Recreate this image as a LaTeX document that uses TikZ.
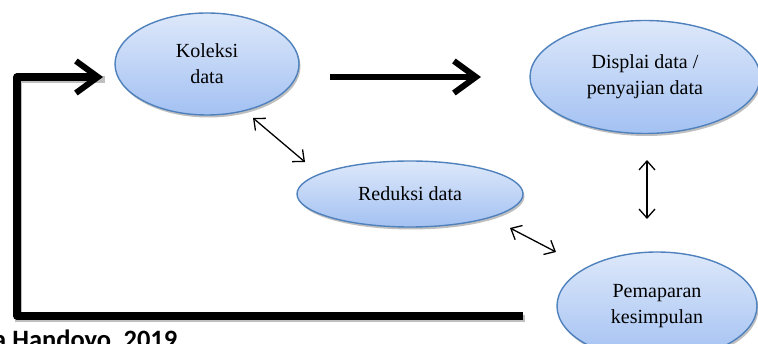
\documentclass[tikz,border=0pt]{standalone}
\usepackage{fontspec}
\setmainfont{Liberation Serif}
\newfontfamily\capfont{Carlito}
\usetikzlibrary{shapes.geometric,arrows.meta,shadows}
\definecolor{ebord}{HTML}{4F81BD}
\definecolor{etop}{HTML}{DDE8FA}
\definecolor{ebot}{HTML}{A3C1F2}
\tikzset{
  bubble/.style={ellipse, inner sep=0pt, draw=ebord, line width=1.4pt,
    top color=etop, bottom color=ebot, align=center,
    font=\fontsize{20}{26}\selectfont,
    drop shadow={shadow xshift=1.5pt, shadow yshift=-2.5pt, opacity=0.25, fill=black}},
  bigarrow/.style={line width=6pt, -{Straight Barb[length=22pt,width=32pt,line width=6pt]}},
  feedback/.style={line width=7.5pt, line join=round, -{Straight Barb[length=22pt,width=32pt,line width=6pt]},
    preaction={draw=black!25, line width=7.5pt, transform canvas={xshift=1.5pt,yshift=-2.5pt}, -}},
  twoway/.style={line width=1.3pt, {Straight Barb[length=9pt,width=16pt]}-{Straight Barb[length=9pt,width=16pt]}}
}
\begin{document}
\begin{tikzpicture}[x=1pt,y=-1pt]
\useasboundingbox (0,0) rectangle (758,344);
\clip (0,0) rectangle (758,344);
\node[bubble, minimum width=184pt, minimum height=102pt] (kol) at (207,64) {Koleksi\\data};
\node[bubble, minimum width=230pt, minimum height=113pt] (dis) at (645,77) {Displai data /\\penyajian data};
\node[bubble, minimum width=226pt, minimum height=66pt] (red) at (410,194) {Reduksi data};
\node[bubble, minimum width=200pt, minimum height=108pt] (pem) at (657,306) {Pemaparan\\kesimpulan};
% coordinates for connector ends
\coordinate (a1) at (330,77);
\coordinate (a2) at (481,77);
\coordinate (f1) at (523,316);
\coordinate (f2) at (17,316);
\coordinate (f3) at (17,77);
\coordinate (f4) at (103,77);
\coordinate (k1) at (253,118);
\coordinate (k2) at (305,162);
\coordinate (d1) at (647,160);
\coordinate (d2) at (647,219);
\coordinate (r1) at (510,228);
\coordinate (r2) at (556,252);
\draw[bigarrow] (a1) -- (a2);
\draw[feedback] (f1) -- (f2) -- (f3) -- (f4);
\draw[twoway] (k1) -- (k2);
\draw[twoway] (d1) -- (d2);
\draw[twoway] (r1) -- (r2);
\node[anchor=base west, inner sep=0pt, font=\capfont\bfseries\fontsize{26.5}{30}\selectfont] (src) at (-7,349) {a Handoyo, 2019};
\end{tikzpicture}
\end{document}
